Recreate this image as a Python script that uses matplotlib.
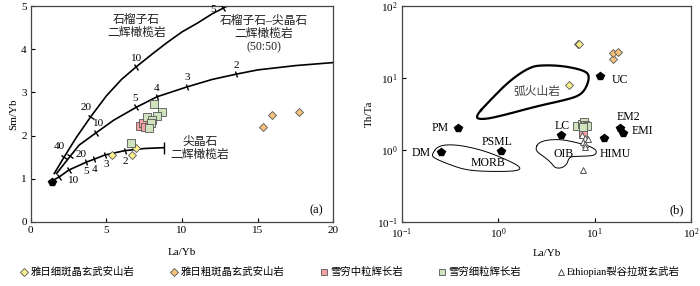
import numpy as np
import matplotlib
matplotlib.use('Agg')
import matplotlib.pyplot as plt
from matplotlib.markers import MarkerStyle
from matplotlib.transforms import Affine2D
from matplotlib.lines import Line2D

plt.rcParams['font.family'] = ['Liberation Serif', 'Noto Sans CJK SC']
plt.rcParams['mathtext.fontset'] = 'stix'

# ---------------- data: panel (a) La/Yb vs Sm/Yb ----------------
# melting curves
grt_x = [1.55, 2.2, 3.0, 3.95, 5.0, 6.0, 7.0, 8.0, 9.0, 10.0, 11.0, 12.0, 13.0, 13.6]
grt_y = [1.12, 1.5, 1.95, 2.43, 2.92, 3.3, 3.6, 3.88, 4.15, 4.4, 4.6, 4.82, 5.0, 5.1]
gsp_x = [1.7, 2.6, 3.2, 4.3, 5.5, 7.0, 8.36, 10.36, 12.0, 13.56, 15.0, 17.5, 20.0]
gsp_y = [1.12, 1.52, 1.78, 2.06, 2.36, 2.66, 2.9, 3.13, 3.3, 3.42, 3.52, 3.62, 3.69]
spl_x = [1.5, 1.87, 2.51, 3.64, 4.17, 4.9, 6.2, 7.5, 8.8]
spl_y = [0.97, 1.04, 1.2, 1.38, 1.45, 1.55, 1.65, 1.7, 1.72]

# melt-percent ticks along curves: x position, label
grt_ticks = [2.2, 3.95, 6.99, 12.68]
grt_tick_labels = ['40', '20', '10', '5']
grt_label_xy = [(1.87, 1.74), (3.64, 2.65), (6.99, 3.79), (12.06, 4.91)]
gsp_ticks = [2.6, 4.3, 6.99, 8.36, 10.36, 13.56]
gsp_tick_labels = ['20', '10', '5', '4', '3', '2']
gsp_label_xy = [(3.35, 1.57), (4.45, 2.28), (6.88, 2.86), (8.35, 3.09), (10.36, 3.35), (13.56, 3.63)]
spl_ticks = [1.87, 2.51, 3.64, 4.17, 4.9, 6.2]
spl_tick_labels = ['10', '5', '4', '3', '2']
spl_label_xy = [(2.8, 0.97), (3.68, 1.16), (4.19, 1.21), (4.96, 1.34), (6.24, 1.39)]

source_a = (1.37, 0.92)

yr_fine_laYb = [5.34, 6.95, 6.7]
yr_fine_smYb = [1.55, 1.72, 1.55]
yr_coarse_laYb = [15.37, 15.92, 17.73]
yr_coarse_smYb = [2.2, 2.47, 2.55]
xq_mid_laYb = [7.25, 7.45, 7.55]
xq_mid_smYb = [2.22, 2.28, 2.2]
xq_fine_laYb = [8.15, 8.7, 8.35, 7.7, 8.0, 7.95, 7.8, 6.6]
xq_fine_smYb = [2.72, 2.55, 2.46, 2.42, 2.36, 2.3, 2.18, 1.83]

# ---------------- data: panel (b) La/Yb vs Th/Ta ----------------
res_names = ['DM', 'PM', 'PSML', 'LC', 'UC', 'HIMU', 'EM2', 'EMI']
res_laYb = [0.254, 0.387, 1.07, 4.47, 11.5, 12.4, 18.2, 19.9]
res_thTa = [0.94, 2.02, 0.97, 1.63, 10.6, 1.47, 2.02, 1.72]
res_label_xy = [(0.158, 0.92), (0.25, 2.02), (0.97, 1.29), (4.6, 2.13), (18.5, 9.3),
                (16.4, 0.87), (22.5, 2.87), (31.0, 1.85)]

arc_x = [0.564, 0.826, 1.33, 2.15, 2.96, 4.77, 7.7, 8.9, 8.3, 7.1, 5.16, 2.52, 1.13, 0.70]
arc_y = [2.82, 4.91, 9.3, 14.3, 15.1, 14.7, 12.8, 10.9, 7.5, 5.76, 5.0, 4.05, 3.03, 2.64]
morb_x = [0.205, 0.24, 0.372, 0.70, 1.23, 1.72, 1.62, 0.9, 0.47, 0.29, 0.213]
morb_y = [0.87, 1.16, 1.19, 0.99, 0.73, 0.58, 0.51, 0.50, 0.52, 0.65, 0.78]
oib_x = [2.45, 2.6, 3.2, 4.5, 6.0, 8.0, 9.5, 10.5, 10.3, 8.8, 6.0, 5.4, 5.2, 4.6, 3.9, 3.6, 3.1, 2.55]
oib_y = [1.05, 1.25, 1.38, 1.4, 1.3, 1.18, 1.08, 0.98, 0.86, 0.82, 0.82, 0.77, 0.64, 0.56, 0.56, 0.65, 0.78, 0.93]

b_yr_fine_laYb = [5.37, 6.8, 6.9]
b_yr_fine_thTa = [7.9, 29.2, 29.8]
b_yr_coarse_laYb = [15.4, 15.7, 17.7]
b_yr_coarse_thTa = [18.6, 22.3, 23.0]
b_xq_mid_laYb = [7.6]
b_xq_mid_thTa = [1.72]
b_xq_fine_laYb = [6.6, 7.4, 7.8, 8.0, 8.3, 7.6]
b_xq_fine_thTa = [2.15, 2.3, 2.45, 2.2, 2.15, 2.1]
eth_laYb = [7.5, 8.0, 8.6, 7.6, 8.0, 8.0, 7.6]
eth_thTa = [1.6, 1.45, 1.4, 1.3, 1.2, 1.1, 0.52]

legend_labels = ['雅日细斑晶玄武安山岩', '雅日粗斑晶玄武安山岩', '雪穷中粒辉长岩',
                 '雪穷细粒辉长岩', 'Ethiopian裂谷拉斑玄武岩']

# styles
c_yfine = '#fdf08c'
c_ycoarse = '#f6c27c'
c_red = '#f3a3a3'
c_green = '#cfe3bf'
edge = '#555555'


def chaikin(x, y, n=3, log=False):
    # smooth a closed outline by corner cutting
    p = np.column_stack([x, y]).astype(float)
    if log:
        p = np.log10(p)
    for _ in range(n):
        q = np.roll(p, -1, axis=0)
        p = np.vstack([0.75 * p + 0.25 * q, 0.25 * p + 0.75 * q])
        p = p.reshape(2, -1, 2).transpose(1, 0, 2).reshape(-1, 2)
    p = np.vstack([p, p[:1]])
    if log:
        p = 10 ** p
    return p[:, 0], p[:, 1]


def curve_ticks(ax, cx, cy, tx, size=5):
    # small bars perpendicular to the curve
    ty = np.interp(tx, cx, cy)
    for x, y in zip(tx, ty):
        d = 0.05
        p0 = ax.transData.transform((x - d, np.interp(x - d, cx, cy)))
        p1 = ax.transData.transform((x + d, np.interp(x + d, cx, cy)))
        ang = np.degrees(np.arctan2(p1[1] - p0[1], p1[0] - p0[0]))
        m = MarkerStyle('|', transform=Affine2D().rotate_deg(ang))
        ax.plot(x, y, marker=m, color='black', ms=size, mew=1, ls='none', zorder=3)


fig = plt.figure(figsize=(7, 2.86), dpi=100)
ax1 = fig.add_axes([0.044, 0.224, 0.432, 0.755])
ax2 = fig.add_axes([0.574, 0.224, 0.413, 0.755])

# ---------------- panel (a) ----------------
ax1.set_xlim(0, 20)
ax1.set_ylim(0, 5)
for cx, cy in [(grt_x, grt_y), (gsp_x, gsp_y), (spl_x, spl_y)]:
    ax1.plot(cx, cy, color='black', lw=1.2, zorder=2, clip_on=True)
curve_ticks(ax1, grt_x, grt_y, grt_ticks)
curve_ticks(ax1, gsp_x, gsp_y, gsp_ticks)
curve_ticks(ax1, spl_x, spl_y, spl_ticks)
curve_ticks(ax1, spl_x, spl_y, [spl_x[-1]], size=8)
for lab, (x, y) in zip(grt_tick_labels, grt_label_xy):
    ax1.text(x, y, lab, fontsize=8, ha='center', va='center')
for lab, (x, y) in zip(gsp_tick_labels, gsp_label_xy):
    ax1.text(x, y, lab, fontsize=8, ha='center', va='center')
for lab, (x, y) in zip(spl_tick_labels, spl_label_xy):
    ax1.text(x, y, lab, fontsize=8, ha='center', va='center')

ax1.plot(*source_a, marker='p', color='black', ms=6, ls='none', zorder=4)
ax1.plot(yr_fine_laYb, yr_fine_smYb, 'D', mfc=c_yfine, mec=edge, ms=4.2, mew=0.6, ls='none', zorder=5)
ax1.plot(yr_coarse_laYb, yr_coarse_smYb, 'D', mfc=c_ycoarse, mec=edge, ms=4.2, mew=0.6, ls='none', zorder=5)
ax1.plot(xq_mid_laYb, xq_mid_smYb, 's', mfc=c_red, mec=edge, ms=5.5, mew=0.6, ls='none', zorder=5)
ax1.plot(xq_fine_laYb, xq_fine_smYb, 's', mfc=c_green, mec=edge, ms=5.5, mew=0.6, ls='none', zorder=5)

ax1.text(6.99, 4.53, '石榴子石\n二辉橄榄岩', fontsize=8.5, ha='center', va='center', linespacing=1.1, color='#222222')
ax1.text(15.4, 4.35, '石榴子石–尖晶石\n二辉橄榄岩\n(50:50)', fontsize=8.5, ha='center', va='center',
         linespacing=1.1, color='#222222')
ax1.text(11.2, 1.71, '尖晶石\n二辉橄榄岩', fontsize=8.5, ha='center', va='center', linespacing=1.1, color='#222222')
ax1.text(18.9, 0.27, '(a)', fontsize=9, ha='center', va='center')

ax1.set_xticks([0, 5, 10, 15, 20])
ax1.set_yticks([0, 1, 2, 3, 4, 5])
ax1.set_xlabel('La/Yb', fontsize=8, labelpad=9)
ax1.set_ylabel('Sm/Yb', fontsize=8, labelpad=2)

# ---------------- panel (b) ----------------
ax2.set_xscale('log')
ax2.set_yscale('log')
ax2.set_xlim(0.1, 100)
ax2.set_ylim(0.1, 100)

ax2.plot(*chaikin(arc_x, arc_y, log=True), color='black', lw=1.6, zorder=2)
ax2.plot(*chaikin(morb_x, morb_y, log=True), color='black', lw=0.7, zorder=2)
ax2.plot(*chaikin(oib_x, oib_y, log=True), color='black', lw=0.7, zorder=2)

ax2.plot(res_laYb, res_thTa, 'p', color='black', ms=6, ls='none', zorder=4)
for lab, (x, y) in zip(res_names, res_label_xy):
    ax2.text(x, y, lab, fontsize=8.5, ha='center', va='center')

ax2.plot(b_yr_fine_laYb, b_yr_fine_thTa, 'D', mfc=c_yfine, mec=edge, ms=4.2, mew=0.6, ls='none', zorder=5)
ax2.plot(b_yr_coarse_laYb, b_yr_coarse_thTa, 'D', mfc=c_ycoarse, mec=edge, ms=4.2, mew=0.6, ls='none', zorder=5)
ax2.plot(b_xq_mid_laYb, b_xq_mid_thTa, 's', mfc=c_red, mec=edge, ms=5.5, mew=0.6, ls='none', zorder=5)
ax2.plot(eth_laYb, eth_thTa, '^', mfc='white', mec=edge, ms=5, mew=0.7, ls='none', zorder=6)
ax2.plot(b_xq_fine_laYb, b_xq_fine_thTa, 's', mfc=c_green, mec=edge, ms=5.5, mew=0.6, ls='none', zorder=7)

ax2.text(2.52, 6.4, '弧火山岩', fontsize=8.5, ha='center', va='center', color='#444444')
ax2.text(0.79, 0.65, 'MORB', fontsize=8.5, ha='center', va='center')
ax2.text(4.77, 0.87, 'OIB', fontsize=8.5, ha='center', va='center')
ax2.text(71.6, 0.145, '(b)', fontsize=9, ha='center', va='center')

ax2.set_xlabel('La/Yb', fontsize=8, labelpad=6)
ax2.set_ylabel('Th/Ta', fontsize=8, labelpad=2)
ax2.minorticks_off()

for ax in (ax1, ax2):
    ax.tick_params(direction='in', labelsize=8, length=3, width=0.8, pad=3)
    for s in ax.spines.values():
        s.set_linewidth(0.9)
        s.set_color('#444444')

# ---------------- legend ----------------
handles = [
    Line2D([], [], marker='D', mfc=c_yfine, mec=edge, ms=4, mew=0.6, ls='none'),
    Line2D([], [], marker='D', mfc=c_ycoarse, mec=edge, ms=4, mew=0.6, ls='none'),
    Line2D([], [], marker='s', mfc=c_red, mec=edge, ms=5, mew=0.6, ls='none'),
    Line2D([], [], marker='s', mfc=c_green, mec=edge, ms=5, mew=0.6, ls='none'),
    Line2D([], [], marker='^', mfc='white', mec=edge, ms=5, mew=0.7, ls='none'),
]
fig.legend(handles, legend_labels, loc='center', bbox_to_anchor=(0.5, 0.05), ncol=5, frameon=False,
           fontsize=7.5, handlelength=0.8, handletextpad=0.2, columnspacing=3.4)

fig.savefig('out.png', dpi=100)
